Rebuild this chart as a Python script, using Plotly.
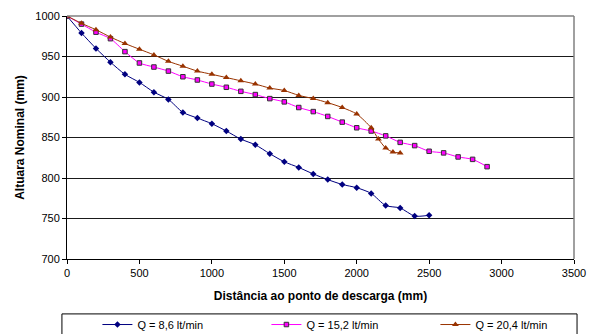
import plotly.graph_objects as go

# Distância ao ponto de descarga (mm) and altura nominal (mm) for each flow rate
dist_q86 = [0, 100, 200, 300, 400, 500, 600, 700, 800, 900, 1000, 1100, 1200,
            1300, 1400, 1500, 1600, 1700, 1800, 1900, 2000, 2100, 2200, 2300,
            2400, 2500]
alt_q86 = [1000, 979, 960, 943, 928, 918, 906, 897, 881, 874, 867, 858, 848,
           841, 830, 820, 813, 805, 798, 792, 788, 781, 766, 763, 753, 754]

dist_q152 = [0, 100, 200, 300, 400, 500, 600, 700, 800, 900, 1000, 1100, 1200,
             1300, 1400, 1500, 1600, 1700, 1800, 1900, 2000, 2100, 2200, 2300,
             2400, 2500, 2600, 2700, 2800, 2900]
alt_q152 = [1000, 990, 980, 972, 956, 942, 937, 932, 925, 921, 916, 912, 907,
            903, 898, 894, 887, 882, 876, 869, 862, 858, 852, 844, 840, 833,
            831, 826, 823, 814]

dist_q204 = [0, 100, 200, 300, 400, 500, 600, 700, 800, 900, 1000, 1100, 1200,
             1300, 1400, 1500, 1600, 1700, 1800, 1900, 2000, 2100, 2150, 2200,
             2250, 2300]
alt_q204 = [1000, 991, 983, 974, 966, 959, 952, 944, 938, 932, 928, 924, 920,
            916, 911, 908, 902, 898, 893, 887, 879, 862, 848, 837, 832, 831]

series_names = ["Q = 8,6 lt/min", "Q = 15,2 lt/min", "Q = 20,4 lt/min"]
x_ticks = [0, 500, 1000, 1500, 2000, 2500, 3000, 3500]
y_ticks = [700, 750, 800, 850, 900, 950, 1000]

FONT = "Liberation Sans, Arial, sans-serif"

fig = go.Figure()

fig.add_trace(go.Scatter(
    x=dist_q86, y=alt_q86, name=series_names[0], mode="lines+markers",
    line=dict(color="#000080", width=1, shape="spline", smoothing=0.7),
    marker=dict(symbol="diamond", size=5, color="#000080"),
))
fig.add_trace(go.Scatter(
    x=dist_q152, y=alt_q152, name=series_names[1], mode="lines+markers",
    line=dict(color="#FF00FF", width=1, shape="spline", smoothing=0.7),
    marker=dict(symbol="square", size=4.5, color="#FF00FF",
                line=dict(color="#333333", width=1)),
))
fig.add_trace(go.Scatter(
    x=dist_q204, y=alt_q204, name=series_names[2], mode="lines+markers",
    line=dict(color="#993300", width=1, shape="spline", smoothing=0.7),
    marker=dict(symbol="triangle-up", size=6, color="#993300"),
))

# gray frame on the top and right of the plot area
fig.add_shape(type="line", xref="paper", yref="paper", x0=0, x1=1, y0=1, y1=1,
              line=dict(color="#808080", width=1.5), layer="above")
fig.add_shape(type="line", xref="paper", yref="paper", x0=1, x1=1, y0=0, y1=1,
              line=dict(color="#808080", width=1.5), layer="above")
# legend box
fig.add_shape(type="rect", xref="paper", yref="paper",
              x0=-0.01, x1=1.006, y0=-0.226, y1=-0.34,
              line=dict(color="black", width=1), fillcolor="rgba(0,0,0,0)")

fig.update_layout(
    width=592, height=334,
    margin=dict(l=67, r=18, t=16, b=75, autoexpand=False),
    paper_bgcolor="white", plot_bgcolor="white",
    font=dict(family=FONT, size=11, color="black"),
    showlegend=True,
    legend=dict(
        orientation="h", x=0.06, xanchor="left", y=-0.21, yanchor="top",
        font=dict(family=FONT, size=11, color="black"),
        entrywidth=124, entrywidthmode="pixels", itemwidth=30,
        bgcolor="rgba(0,0,0,0)", borderwidth=0,
    ),
    xaxis=dict(
        range=[0, 3500], tickvals=x_ticks, ticks="outside", ticklen=4,
        tickcolor="black", showline=True, linecolor="black", linewidth=1,
        showgrid=False, zeroline=False,
        tickfont=dict(family=FONT, size=11),
        title=dict(text="<b>Distância ao ponto de descarga (mm)</b>",
                   font=dict(family=FONT, size=12), standoff=13),
    ),
    yaxis=dict(
        range=[700, 1000], tickvals=y_ticks, ticks="outside", ticklen=4,
        tickcolor="black", showline=True, linecolor="black", linewidth=1,
        showgrid=True, gridcolor="#1a1a1a", gridwidth=1, zeroline=False,
        tickfont=dict(family=FONT, size=11),
        title=dict(text="<b>Altuara Nominal (mm)</b>",
                   font=dict(family=FONT, size=12), standoff=8),
    ),
)

fig.write_html("out.html")
